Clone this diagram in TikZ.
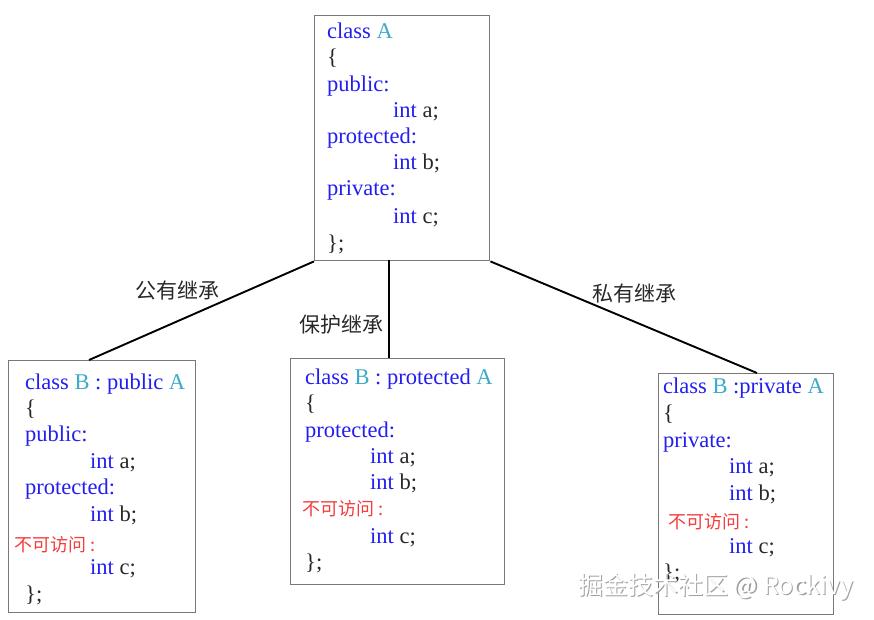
\documentclass[tikz,border=0pt]{standalone}
\usepackage{fontspec}
\setmainfont{Liberation Serif}
\newfontfamily\cjk{Noto Sans CJK SC}
\usetikzlibrary{calc}
\definecolor{kw}{RGB}{35,30,240}
\definecolor{cls}{RGB}{60,170,200}
\definecolor{nm}{RGB}{40,40,40}
\definecolor{red1}{RGB}{245,60,60}
\definecolor{boxc}{RGB}{120,120,120}
\definecolor{lbl}{RGB}{40,40,40}
\newcommand{\kwt}[1]{\textcolor{kw}{#1}}
\newcommand{\clt}[1]{\textcolor{cls}{#1}}
\newcommand{\nmt}[1]{\textcolor{nm}{#1}}
\tikzset{
  codebox/.style={draw=boxc, line width=1.4pt, fill=white, inner sep=0pt, anchor=north west},
  code/.style={anchor=base west, inner sep=0pt, font=\fontsize{22.5}{22.5}\selectfont},
  noacc/.style={anchor=base west, inner sep=0pt, text=red1, font=\cjk\fontsize{18}{18}\selectfont},
  inh/.style={draw=black, line width=1.9pt},
  inhlabel/.style={inner sep=0pt, text=lbl, font=\cjk\fontsize{21}{21}\selectfont},
}
\begin{document}
\begin{tikzpicture}[x=1pt,y=-1pt]
\useasboundingbox (0,0) rectangle (874,620);
% boxes
\node[codebox, minimum width=175pt, minimum height=245pt] (A) at (314,15) {};
\node[codebox, minimum width=187pt, minimum height=252pt] (B1) at (8,360) {};
\node[codebox, minimum width=214pt, minimum height=226pt] (B2) at (290,358) {};
\node[codebox, minimum width=175pt, minimum height=241pt] (B3) at (658,373) {};
% connector ends
\coordinate (b1top) at (89,360);
\coordinate (b2top) at (389,358);
\coordinate (b3top) at (757,373);
\coordinate (amid) at (389,260);
\draw[inh] (A.south west) -- (b1top);
\draw[inh] (amid) -- (b2top);
\draw[inh] (A.south east) -- (b3top);
% labels
\node[inhlabel] (l1) at (177,290) {公有继承};
\node[inhlabel] (l2) at (341,325) {保护继承};
\node[inhlabel] (l3) at (634,293) {私有继承};
% box A text
\node[code] (a1) at (327,39) {\kwt{class} \clt{A}};
\node[code] (a2) at (327,65) {\nmt{\{}};
\node[code] (a3) at (327,92) {\kwt{public:}};
\node[code] (a4) at (393,118) {\kwt{int} \nmt{a;}};
\node[code] (a5) at (327,144) {\kwt{protected:}};
\node[code] (a6) at (393,170) {\kwt{int} \nmt{b;}};
\node[code] (a7) at (327,196) {\kwt{private:}};
\node[code] (a8) at (393,223) {\kwt{int} \nmt{c;}};
\node[code] (a9) at (327,250) {\nmt{\};}};
% box B1 text
\node[code] (p1) at (25,389) {\kwt{class} \clt{B} \kwt{: public} \clt{A}};
\node[code] (p2) at (25,415) {\nmt{\{}};
\node[code] (p3) at (25,441) {\kwt{public:}};
\node[code] (p4) at (90,468) {\kwt{int} \nmt{a;}};
\node[code] (p5) at (25,494) {\kwt{protected:}};
\node[code] (p6) at (90,521) {\kwt{int} \nmt{b;}};
\node[noacc] (p7) at (14,551) {不可访问 :};
\node[code] (p8) at (90,574) {\kwt{int} \nmt{c;}};
\node[code] (p9) at (25,601) {\nmt{\};}};
% box B2 text
\node[code] (q1) at (305,384) {\kwt{class} \clt{B} \kwt{: protected} \clt{A}};
\node[code] (q2) at (305,410) {\nmt{\{}};
\node[code] (q3) at (305,437) {\kwt{protected:}};
\node[code] (q4) at (370,463) {\kwt{int} \nmt{a;}};
\node[code] (q5) at (370,489) {\kwt{int} \nmt{b;}};
\node[noacc] (q6) at (302,515) {不可访问 :};
\node[code] (q7) at (370,543) {\kwt{int} \nmt{c;}};
\node[code] (q8) at (305,569) {\nmt{\};}};
% box B3 text
\node[code] (r1) at (663,393) {\kwt{class} \clt{B} \kwt{:private} \clt{A}};
\node[code] (r2) at (663,420) {\nmt{\{}};
\node[code] (r3) at (663,447) {\kwt{private:}};
\node[code] (r4) at (729,473) {\kwt{int} \nmt{a;}};
\node[code] (r5) at (729,500) {\kwt{int} \nmt{b;}};
\node[noacc] (r6) at (668,528) {不可访问 :};
\node[code] (r7) at (729,553) {\kwt{int} \nmt{c;}};
\node[code] (r8) at (663,579) {\nmt{\};}};
% watermark
\node[anchor=west, inner sep=0pt, text=gray!75, font=\cjk\fontsize{25}{25}\selectfont] (wms) at (579.3,588.3) {掘金技术社区 @ Rockivy};
\node[anchor=west, inner sep=0pt, text=white, font=\cjk\fontsize{25}{25}\selectfont] (wm) at (578,587) {掘金技术社区 @ Rockivy};
\end{tikzpicture}
\end{document}
